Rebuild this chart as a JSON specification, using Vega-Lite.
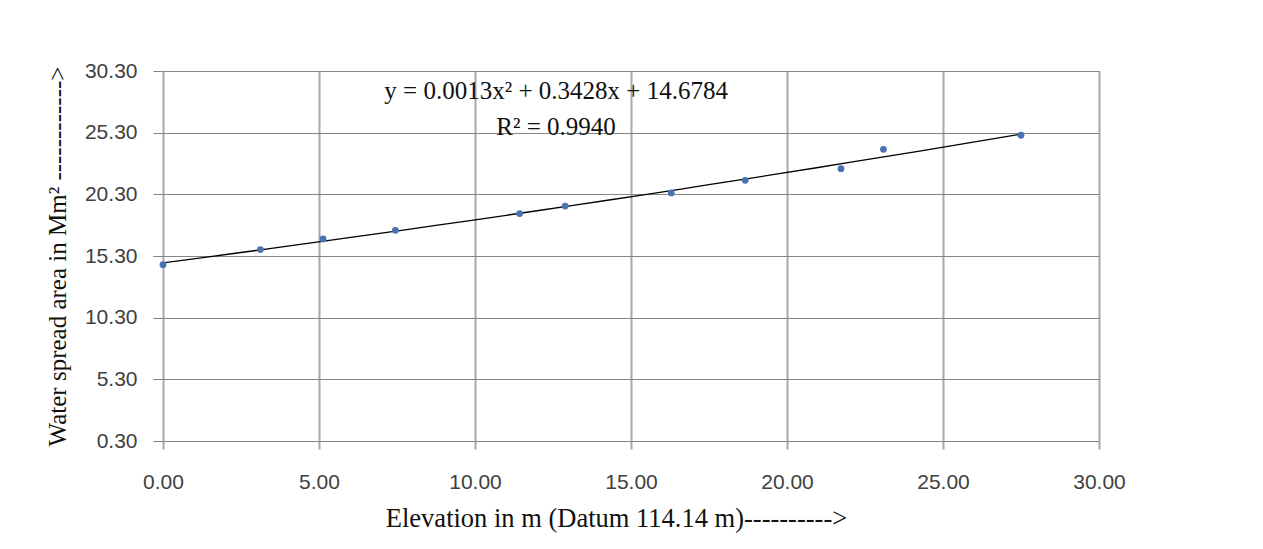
{
  "$schema": "https://vega.github.io/schema/vega-lite/v6.json",
  "autosize": {"type": "none"},
  "width": 936,
  "height": 370,
  "padding": {"left": 163, "top": 71, "right": 164, "bottom": 108},
  "background": "white",
  "config": {
    "view": {"stroke": null},
    "axis": {"labelFont": "Liberation Sans", "labelColor": "#404040", "titleFont": "Liberation Serif", "titleColor": "#111111", "titleFontWeight": "normal"}
  },
  "data": {
    "values": [
      {"elev": 0.0, "area": 14.60},
      {"elev": 3.12, "area": 15.82},
      {"elev": 5.13, "area": 16.68},
      {"elev": 7.45, "area": 17.38},
      {"elev": 11.43, "area": 18.74},
      {"elev": 12.89, "area": 19.35},
      {"elev": 16.29, "area": 20.41},
      {"elev": 18.66, "area": 21.44},
      {"elev": 21.73, "area": 22.38},
      {"elev": 23.09, "area": 23.95},
      {"elev": 27.50, "area": 25.09}
    ]
  },
  "layer": [
    {
      "transform": [{"regression": "area", "on": "elev", "method": "poly", "order": 2, "extent": [0, 27.5]}],
      "mark": {"type": "line", "color": "#000000", "strokeWidth": 1.3},
      "encoding": {
        "x": {"field": "elev", "type": "quantitative"},
        "y": {"field": "area", "type": "quantitative"}
      }
    },
    {
      "mark": {"type": "circle", "color": "#4a72b0", "opacity": 1, "size": 46},
      "encoding": {
        "x": {
          "field": "elev", "type": "quantitative",
          "scale": {"domain": [0, 30], "nice": false, "zero": false},
          "axis": {
            "title": "Elevation in m (Datum 114.14 m)---------->",
            "values": [0, 5, 10, 15, 20, 25, 30],
            "format": ".2f",
            "labelFlush": false,
            "domain": false,
            "grid": true, "gridColor": "#a8a8a8", "gridWidth": 2,
            "ticks": true, "tickColor": "#a8a8a8", "tickWidth": 2, "tickSize": 8,
            "labelFontSize": 21, "labelPadding": 22,
            "titleFontSize": 26.5, "titlePadding": 13, "titleX": 453
          }
        },
        "y": {
          "field": "area", "type": "quantitative",
          "scale": {"domain": [0.3, 30.3], "nice": false, "zero": false},
          "axis": {
            "title": "Water spread area in Mm² ------------>",
            "values": [0.3, 5.3, 10.3, 15.3, 20.3, 25.3, 30.3],
            "format": ".2f",
            "labelFlush": false,
            "domain": false,
            "grid": true, "gridColor": "#858585", "gridWidth": 1,
            "ticks": true, "tickColor": "#858585", "tickSize": 10,
            "labelFontSize": 21, "labelPadding": 16,
            "titleFontSize": 25, "titlePadding": 14
          }
        }
      }
    },
    {
      "data": {"values": [{"label": "eq"}]},
      "mark": {"type": "text", "font": "Liberation Serif", "fontSize": 25, "color": "#111111", "align": "center", "baseline": "middle", "lineHeight": 36},
      "encoding": {
        "x": {"datum": 12.6, "type": "quantitative"},
        "y": {"datum": 28.65, "type": "quantitative"},
        "text": {"value": ["y = 0.0013x² + 0.3428x + 14.6784", "R² = 0.9940"]}
      }
    }
  ]
}
